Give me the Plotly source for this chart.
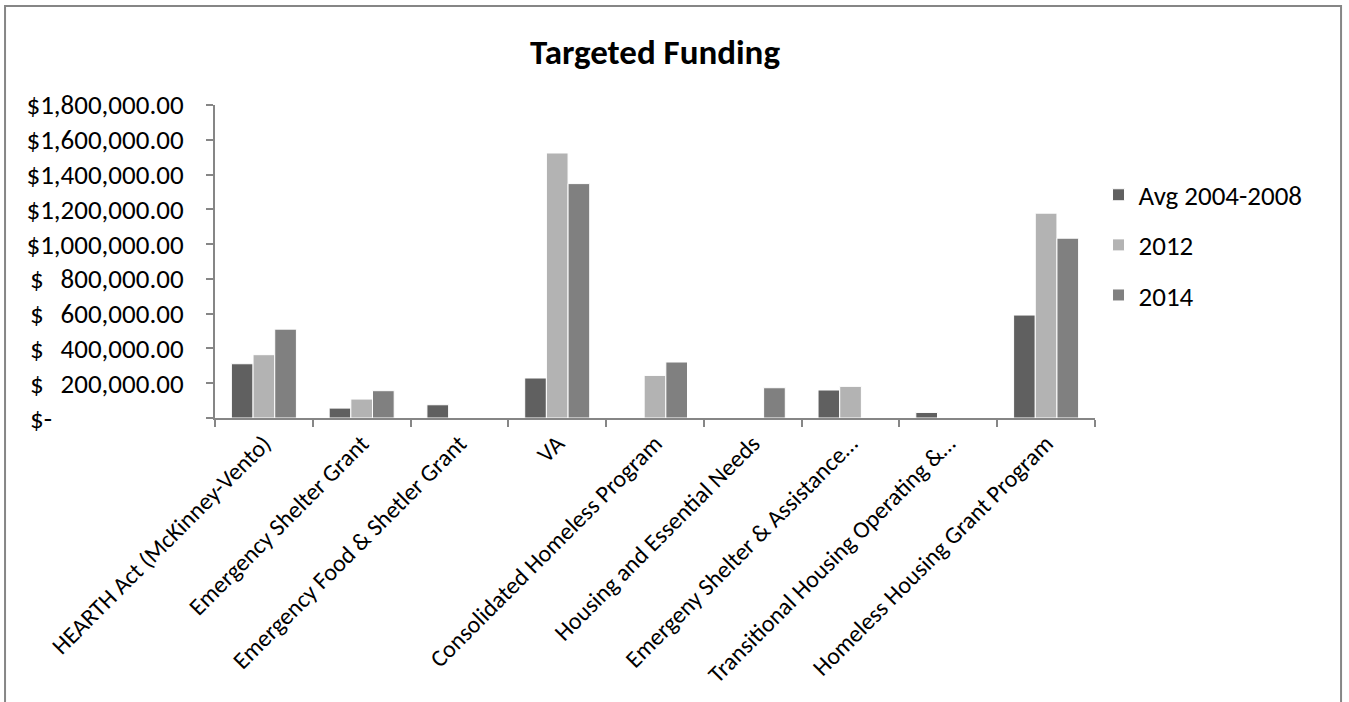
import plotly.graph_objects as go

categories = [
    "HEARTH Act (McKinney-Vento)",
    "Emergency Shelter Grant",
    "Emergency Food & Shetler Grant",
    "VA",
    "Consolidated Homeless Program",
    "Housing and Essential Needs",
    "Emergeny Shelter & Assistance…",
    "Transitional Housing Operating &…",
    "Homeless Housing Grant Program",
]
avg_2004_2008 = [312000, 57000, 76000, 230000, None, None, 161000, 32000, 592000]
y2012 = [364000, 109000, None, 1524000, 245000, None, 182000, None, 1178000]
y2014 = [511000, 157000, None, 1348000, 322000, 174000, None, None, 1034000]

series_names = ["Avg 2004-2008", "2012", "2014"]
series_colors = ["#606060", "#b3b3b3", "#808080"]

tick_vals = [0, 200000, 400000, 600000, 800000, 1000000, 1200000, 1400000, 1600000, 1800000]
tick_numbers = ["", "200,000.00", "400,000.00", "600,000.00", "800,000.00",
                "$1,000,000.00", "$1,200,000.00", "$1,400,000.00", "$1,600,000.00", "$1,800,000.00"]
# accounting-format currency symbols shown left-aligned for the shorter labels
tick_currency = ["$-", "$", "$", "$", "$", "", "", "", "", ""]

FONT = "Calibri, Carlito, Lato, sans-serif"

fig = go.Figure()
for name, vals, col in zip(series_names, [avg_2004_2008, y2012, y2014], series_colors):
    fig.add_trace(go.Bar(
        x=categories, y=vals, name=name, legendgroup=name,
        marker=dict(color=col, line=dict(color="white", width=1)),
    ))

annotations = [
    dict(text=c, x=-0.2125, xref="paper", xanchor="left", y=v, yref="y", yanchor="middle",
         showarrow=False, font=dict(size=27, family=FONT, color="black"))
    for c, v in zip(tick_currency, tick_vals) if c
]

fig.update_layout(
    width=1349, height=702,
    paper_bgcolor="white", plot_bgcolor="white",
    margin=dict(l=215, r=254, t=105, b=284),
    font=dict(family=FONT, size=24, color="black"),
    title=dict(text="<b>Targeted Funding</b>", x=0.5, xref="paper", xanchor="center",
               y=0.926, yanchor="middle", font=dict(size=35, family=FONT)),
    barmode="group", bargap=0.335, bargroupgap=0,
    showlegend=True,
    legend=dict(x=1.004, y=0.79, xanchor="left", yanchor="top",
                font=dict(size=27, family=FONT), tracegroupgap=12,
                bgcolor="rgba(0,0,0,0)", itemwidth=30),
    annotations=annotations,
    shapes=[dict(type="rect", xref="paper", yref="paper",
                 x0=-0.2386, x1=1.2796, y0=1.316, y1=-1.2,
                 line=dict(color="#868686", width=2), fillcolor="rgba(0,0,0,0)", layer="below")],
)
fig.update_xaxes(
    type="category", tickangle=-45, showline=True, linecolor="#868686", linewidth=2,
    ticks="outside", ticklen=7, tickcolor="#868686", tickwidth=2,
    tickson="boundaries", showgrid=False, tickfont=dict(size=24, family=FONT),
)
fig.update_yaxes(
    range=[0, 1800000], tickvals=tick_vals, ticktext=tick_numbers,
    showline=True, linecolor="#868686", linewidth=2,
    ticks="outside", ticklen=7, tickcolor="#868686", tickwidth=2,
    showgrid=False, zeroline=False, tickfont=dict(size=27, family=FONT),
    ticklabelstandoff=17,
)

fig.write_html("out.html", config={"displayModeBar": False},
               post_script="document.body.style.margin='0';")
